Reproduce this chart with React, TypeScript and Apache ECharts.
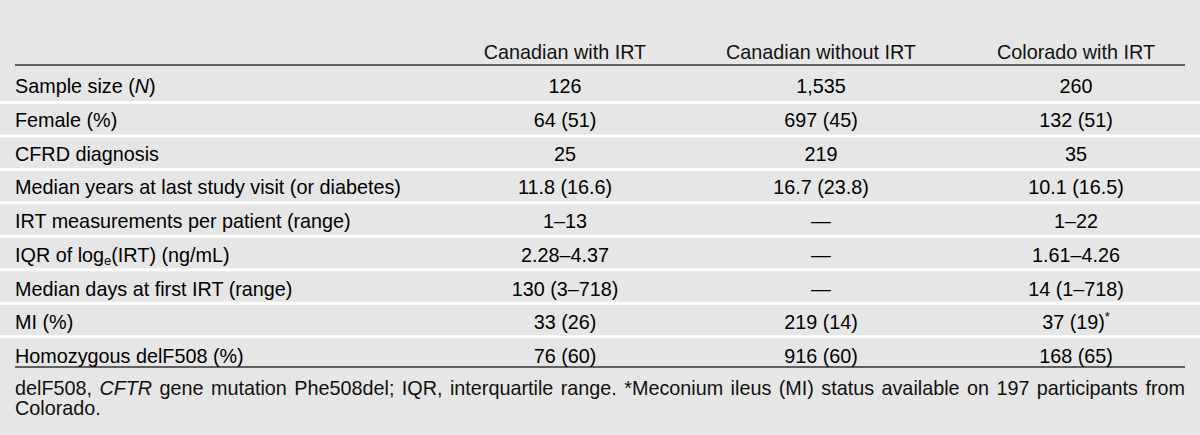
import React, { useEffect, useRef } from 'react';
import * as echarts from 'echarts';

// ---------- data ----------
const columnHeaders = ['Canadian with IRT', 'Canadian without IRT', 'Colorado with IRT'];

const rowLabels = [
  '{r|Sample size (}{i|N}{r|)}',
  '{r|Female (%)}',
  '{r|CFRD diagnosis}',
  '{r|Median years at last study visit (or diabetes)}',
  '{r|IRT measurements per patient (range)}',
  '{r|IQR of log}{sub|e}{r|(IRT) (ng/mL)}',
  '{r|Median days at first IRT (range)}',
  '{r|MI (%)}',
  '{r|Homozygous delF508 (%)}',
];

const canadianWithIRT = ['126', '64 (51)', '25', '11.8 (16.6)', '1–13', '2.28–4.37', '130 (3–718)', '33 (26)', '76 (60)'];
const canadianWithoutIRT = ['1,535', '697 (45)', '219', '16.7 (23.8)', '—', '—', '—', '219 (14)', '916 (60)'];
const coloradoWithIRT = ['260', '132 (51)', '35', '10.1 (16.5)', '1–22', '1.61–4.26', '14 (1–718)', '37 (19){sup|*}', '168 (65)'];

const footnoteLine1 =
  'delF508, CFTR gene mutation Phe508del; IQR, interquartile range. *Meconium ileus (MI) status available on 197 participants from';
const footnoteLine2 = 'Colorado.';
const italicWords = ['CFTR'];

// ---------- layout / style ----------
const W = 1200;
const H = 435;
const FONT = '"Liberation Sans", Arial, Helvetica, sans-serif';
const FS = 19.8;
const TEXT_COLOR = '#111111';
const BG = '#e6e6e6';
const LEFT = 15;
const RIGHT = 1185;
const COL_X = [565, 821, 1076];
const HEADER_Y = 52;
const HEADER_LINE_Y = 65;
const ROW_Y0 = 86;
const ROW_H = 33.75;
const SEP_Y0 = 102.5;
const SEP_H = 33.45;
const BOTTOM_LINE_Y = 367;
const FOOT_Y1 = 387.5;
const FOOT_Y2 = 408;

const rich = {
  r: { fontSize: FS, fontFamily: FONT, color: TEXT_COLOR, lineHeight: 24 },
  i: { fontSize: FS, fontFamily: FONT, color: TEXT_COLOR, fontStyle: 'italic', lineHeight: 24 },
  sub: { fontSize: 13, fontFamily: FONT, color: TEXT_COLOR, lineHeight: 13, verticalAlign: 'bottom' },
  sup: { fontSize: 13, fontFamily: FONT, color: TEXT_COLOR, lineHeight: 13, verticalAlign: 'top' },
};

function wrapPlain(s: string): string {
  if (s.includes('{')) {
    return s.replace(/(^|\})([^{}]+)(?=\{|$)/g, (_m, p1, p2) => `${p1}{r|${p2}}`);
  }
  return `{r|${s}}`;
}

function measure(text: string, italic: boolean): number {
  const c = document.createElement('canvas');
  const ctx = c.getContext('2d')!;
  ctx.font = `${italic ? 'italic ' : ''}${FS}px ${FONT}`;
  return ctx.measureText(text).width;
}

export default function App() {
  const ref = useRef<HTMLDivElement>(null);

  useEffect(() => {
    document.body.style.margin = '0';
    if (!ref.current) return;
    const chart = echarts.init(ref.current, undefined, { renderer: 'svg' });

    const elements: any[] = [];

    // white row separators
    for (let i = 0; i < rowLabels.length - 1; i++) {
      elements.push({
        type: 'rect',
        shape: { x: 0, y: SEP_Y0 + SEP_H * i - 1.5, width: W, height: 3 },
        style: { fill: '#ffffff' },
        silent: true,
      });
    }

    // header texts
    columnHeaders.forEach((h, c) => {
      elements.push({
        type: 'text',
        x: COL_X[c],
        y: HEADER_Y,
        style: { text: h, font: `${FS}px ${FONT}`, fill: TEXT_COLOR, align: 'center', verticalAlign: 'middle' },
      });
    });

    // rules
    elements.push({
      type: 'line',
      shape: { x1: LEFT, y1: HEADER_LINE_Y, x2: RIGHT, y2: HEADER_LINE_Y },
      style: { stroke: '#333333', lineWidth: 1.6 },
    });
    elements.push({
      type: 'line',
      shape: { x1: LEFT, y1: BOTTOM_LINE_Y, x2: RIGHT, y2: BOTTOM_LINE_Y },
      style: { stroke: '#333333', lineWidth: 1.6 },
    });

    // body rows
    const columns = [canadianWithIRT, canadianWithoutIRT, coloradoWithIRT];
    rowLabels.forEach((label, r) => {
      const y = ROW_Y0 + ROW_H * r;
      elements.push({
        type: 'text',
        x: LEFT,
        y,
        style: { text: label, rich, align: 'left', verticalAlign: 'middle' },
      });
      columns.forEach((col, c) => {
        elements.push({
          type: 'text',
          x: COL_X[c],
          y,
          style: { text: wrapPlain(col[r]), rich, align: 'center', verticalAlign: 'middle' },
        });
      });
    });

    // footnote line 1, justified
    const words = footnoteLine1.split(' ');
    const widths = words.map((w) => measure(w, italicWords.includes(w)));
    const total = widths.reduce((a, b) => a + b, 0);
    const gap = Math.max(4, (RIGHT - LEFT - total) / (words.length - 1));
    let x = LEFT;
    words.forEach((w, k) => {
      elements.push({
        type: 'text',
        x,
        y: FOOT_Y1,
        style: {
          text: w,
          font: `${italicWords.includes(w) ? 'italic ' : ''}${FS}px ${FONT}`,
          fill: TEXT_COLOR,
          align: 'left',
          verticalAlign: 'middle',
        },
      });
      x += widths[k] + gap;
    });
    elements.push({
      type: 'text',
      x: LEFT,
      y: FOOT_Y2,
      style: { text: footnoteLine2, font: `${FS}px ${FONT}`, fill: TEXT_COLOR, align: 'left', verticalAlign: 'middle' },
    });

    chart.setOption({
      animation: false,
      backgroundColor: BG,
      graphic: { elements },
    });

    return () => chart.dispose();
  }, []);

  return <div ref={ref} style={{ width: W, height: H }} />;
}
